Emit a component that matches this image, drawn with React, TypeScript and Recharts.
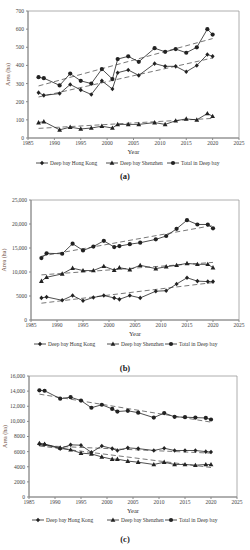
import React from 'react';
import { LineChart, Line, XAxis, YAxis, ReferenceArea } from 'recharts';

const YEARS = [1987, 1988, 1991, 1993, 1995, 1997, 1999, 2001, 2002, 2004, 2006, 2009, 2011, 2013, 2015, 2017, 2019, 2020];
const YEAR_TICKS = [1985, 1990, 1995, 2000, 2005, 2010, 2015, 2020, 2025];

// (a)
const A_HK = [250, 235, 245, 295, 265, 240, 315, 270, 360, 375, 345, 410, 395, 395, 365, 400, 460, 450];
const A_SZ = [85, 90, 45, 60, 50, 55, 65, 55, 75, 75, 75, 85, 75, 95, 105, 100, 135, 120];
const A_TOTAL = [335, 330, 290, 355, 315, 300, 380, 325, 435, 450, 420, 495, 475, 490, 470, 500, 600, 570];
const A_TREND_HK = [226, 441]; // fitted line at 1987 and 2020
const A_TREND_SZ = [53, 108];
const A_TREND_TOTAL = [287, 548];
const A_TICKS = [0, 100, 200, 300, 400, 500, 600, 700];

// (b)
const B_HK = [4600, 4800, 4100, 5100, 4000, 4700, 5100, 4600, 4300, 5100, 4600, 6000, 6100, 7500, 8800, 8100, 8000, 8000];
const B_SZ = [8100, 8900, 9600, 10800, 10300, 10300, 11200, 10400, 10900, 10500, 11400, 10700, 11100, 11400, 11800, 11600, 11600, 10900];
const B_TOTAL = [12900, 13900, 13800, 15900, 14500, 15300, 16500, 15200, 15400, 15800, 16100, 16800, 17500, 19000, 20800, 19900, 19900, 19100];
const B_TREND_HK = [3500, 7800];
const B_TREND_SZ = [9400, 12000];
const B_TREND_TOTAL = [13300, 19700];
const B_TICKS = [0, 5000, 10000, 15000, 20000, 25000];

// (c)
const C_HK = [7000, 6950, 6400, 6900, 6850, 5900, 6750, 6400, 6150, 6500, 6400, 6150, 6450, 6150, 6150, 6150, 6000, 5950];
const C_SZ = [7100, 7000, 6500, 6250, 5800, 5700, 5300, 5000, 5000, 4750, 4600, 4300, 4600, 4300, 4300, 4200, 4300, 4300];
const C_TOTAL = [14100, 14050, 13000, 13200, 12750, 11800, 12200, 11650, 11300, 11400, 11150, 10500, 11100, 10600, 10550, 10500, 10450, 10250];
const C_TREND_HK = [6800, 5800];
const C_TREND_SZ = [6750, 3900];
const C_TREND_TOTAL = [13600, 9900];
const C_TICKS = [0, 2000, 4000, 6000, 8000, 10000, 12000, 14000, 16000];

const LEGEND_NAMES = ['Deep bay Hong Kong', 'Deep bay Shenzhen', 'Total in Deep bay'];
const SERIF = '"Liberation Serif", "Times New Roman", serif';
const INK = '#222';

const Diamond = ({ cx, cy }: any) =>
  cx == null ? null : (
    <path d={`M${cx},${cy - 2.3}L${cx + 2},${cy}L${cx},${cy + 2.3}L${cx - 2},${cy}Z`} fill={INK} />
  );
const Triangle = ({ cx, cy }: any) =>
  cx == null ? null : (
    <path d={`M${cx},${cy - 2.6}L${cx + 2.4},${cy + 1.8}L${cx - 2.4},${cy + 1.8}Z`} fill={INK} />
  );
const Circle = ({ cx, cy }: any) => (cx == null ? null : <circle cx={cx} cy={cy} r={2.1} fill={INK} />);

const MARKERS = [Diamond, Triangle, Circle];

const fmt = (v: number) => (v >= 10000 ? v.toLocaleString('en-US') : String(v));

const buildRows = (hk: number[], sz: number[], total: number[], tHk: number[], tSz: number[], tTot: number[]) =>
  YEARS.map((year, i) => {
    const edge = i === 0 ? 0 : i === YEARS.length - 1 ? 1 : -1;
    return {
      year,
      hk: hk[i],
      sz: sz[i],
      total: total[i],
      tHk: edge >= 0 ? tHk[edge] : undefined,
      tSz: edge >= 0 ? tSz[edge] : undefined,
      tTot: edge >= 0 ? tTot[edge] : undefined,
    };
  });

interface PanelProps {
  top: number;
  height: number;
  marginTop: number;
  marginRight: number;
  yWidth: number;
  labelOffset: number;
  yMax: number;
  ticks: number[];
  rows: any[];
  legendTop: number;
  legendX: number[];
  caption: string;
  captionTop: number;
}

const Legend = ({ top, xs }: { top: number; xs: number[] }) => (
  <>
    {LEGEND_NAMES.map((name, i) => {
      const M = MARKERS[i];
      return (
        <div
          key={name}
          style={{ position: 'absolute', left: xs[i], top: top - 4, height: 8, display: 'flex', alignItems: 'center' }}
        >
          <svg width={12} height={8}>
            <line x1={0} y1={4} x2={12} y2={4} stroke={INK} strokeWidth={0.8} />
            <M cx={6} cy={4} />
          </svg>
          <span style={{ fontFamily: SERIF, fontSize: 5.4, color: '#333', marginLeft: 2, whiteSpace: 'nowrap' }}>{name}</span>
        </div>
      );
    })}
  </>
);

const Panel = (p: PanelProps) => {
  const tick = { fontSize: 5.5, fill: '#444', fontFamily: SERIF };
  return (
    <>
      <div style={{ position: 'absolute', left: 0, top: p.top }}>
        <LineChart
          width={250}
          height={p.height}
          data={p.rows}
          margin={{ top: p.marginTop, right: p.marginRight, left: 0, bottom: 0 }}
        >
          <XAxis
            dataKey="year"
            type="number"
            domain={[1985, 2025]}
            ticks={YEAR_TICKS}
            height={22}
            tick={tick}
            tickSize={2}
            tickMargin={1}
            stroke="#888"
            label={{ value: 'Year', position: 'insideBottom', offset: 6, style: { fontSize: 6.5, fill: '#333', fontFamily: SERIF } }}
          />
          <YAxis
            type="number"
            domain={[0, p.yMax]}
            ticks={p.ticks}
            tickFormatter={fmt}
            width={p.yWidth}
            tick={tick}
            tickSize={2}
            tickMargin={2}
            stroke="#888"
            label={{
              value: 'Area (ha)',
              angle: -90,
              position: 'insideLeft',
              offset: p.labelOffset,
              style: { fontSize: 6, fill: '#6b4a3a', fontFamily: SERIF, textAnchor: 'middle' },
            }}
          />
          <ReferenceArea x1={1985} x2={2025} y1={0} y2={p.yMax} fill="none" stroke="#999" strokeWidth={0.8} />
          {['tHk', 'tSz', 'tTot'].map((k) => (
            <Line
              key={k}
              dataKey={k}
              stroke="#555"
              strokeWidth={0.8}
              strokeDasharray="5 3"
              dot={false}
              connectNulls
              legendType="none"
              isAnimationActive={false}
            />
          ))}
          {['hk', 'sz', 'total'].map((k, i) => {
            const M = MARKERS[i];
            return (
              <Line
                key={k}
                dataKey={k}
                stroke={INK}
                strokeWidth={0.8}
                dot={(d: any) => <M key={`${k}-${d.index}`} cx={d.cx} cy={d.cy} />}
                activeDot={false}
                isAnimationActive={false}
              />
            );
          })}
        </LineChart>
      </div>
      <Legend top={p.legendTop} xs={p.legendX} />
      <div
        style={{
          position: 'absolute',
          left: 0,
          width: 250,
          top: p.captionTop - 6,
          textAlign: 'center',
          fontFamily: SERIF,
          fontWeight: 'bold',
          fontSize: 8.5,
          color: '#222',
          lineHeight: '12px',
        }}
      >
        {p.caption}
      </div>
    </>
  );
};

export default function App() {
  return (
    <div style={{ position: 'absolute', left: 0, top: 0, width: 250, height: 550, background: '#fff' }}>
      <Panel
        top={0}
        height={160}
        marginTop={11}
        marginRight={11}
        yWidth={28}
        labelOffset={8}
        yMax={700}
        ticks={A_TICKS}
        rows={buildRows(A_HK, A_SZ, A_TOTAL, A_TREND_HK, A_TREND_SZ, A_TREND_TOTAL)}
        legendTop={163}
        legendX={[36, 106, 167]}
        caption="(a)"
        captionTop={176}
      />
      <Panel
        top={185}
        height={157}
        marginTop={15}
        marginRight={11}
        yWidth={31}
        labelOffset={4}
        yMax={25000}
        ticks={B_TICKS}
        rows={buildRows(B_HK, B_SZ, B_TOTAL, B_TREND_HK, B_TREND_SZ, B_TREND_TOTAL)}
        legendTop={344}
        legendX={[34, 107, 165]}
        caption="(b)"
        captionTop={368}
      />
      <Panel
        top={365}
        height={154}
        marginTop={11}
        marginRight={13}
        yWidth={29}
        labelOffset={5}
        yMax={16000}
        ticks={C_TICKS}
        rows={buildRows(C_HK, C_SZ, C_TOTAL, C_TREND_HK, C_TREND_SZ, C_TREND_TOTAL)}
        legendTop={520}
        legendX={[32, 107, 165]}
        caption="(c)"
        captionTop={539}
      />
    </div>
  );
}
